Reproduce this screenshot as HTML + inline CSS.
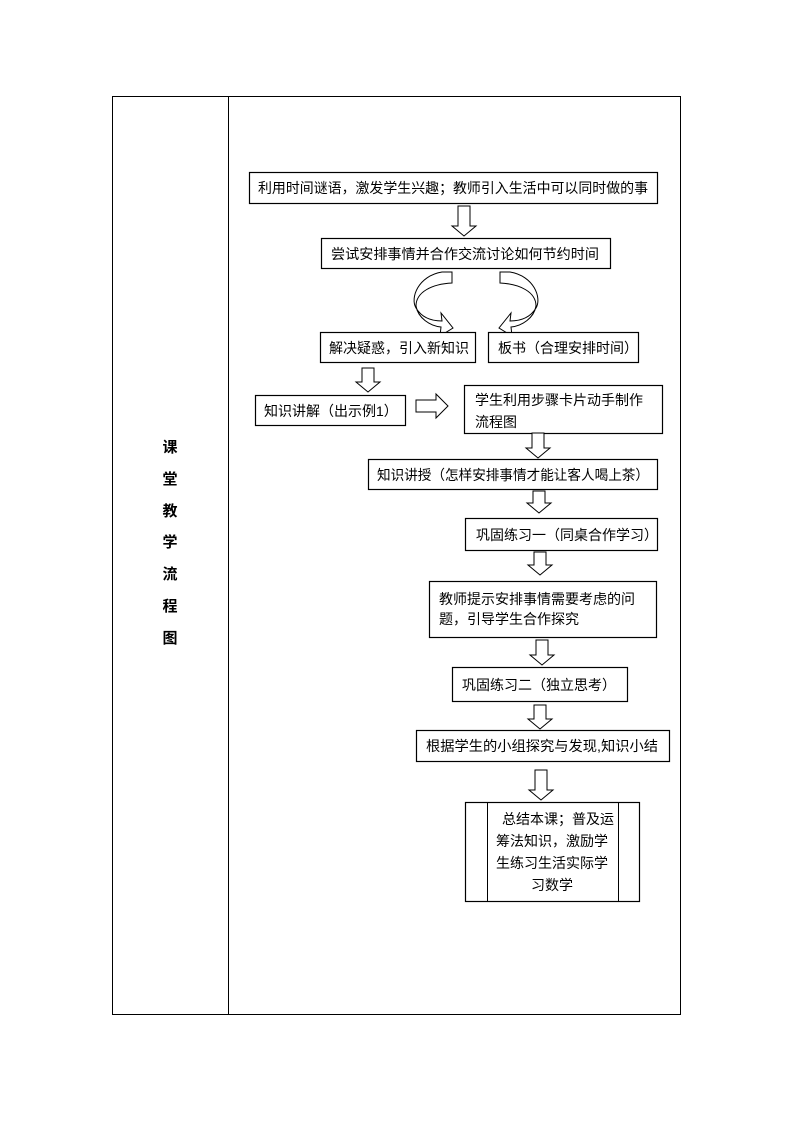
<!DOCTYPE html>
<html><head><meta charset="utf-8"><style>
html,body{margin:0;padding:0;background:#fff;}
svg{display:block;}
text{font-family:"Liberation Sans","Noto Sans CJK SC","WenQuanYi Zen Hei",sans-serif;font-size:14px;fill:#000;}
.b{fill:#fff;stroke:#000;stroke-width:1.2;}
.a{fill:#fff;stroke:#000;stroke-width:1;}
.v{font-size:15px;font-weight:bold;}
</style></head><body>
<svg width="794" height="1123" viewBox="0 0 794 1123" xmlns="http://www.w3.org/2000/svg">
<rect x="112.5" y="96.5" width="568" height="918" fill="none" stroke="#000" stroke-width="1"/>
<line x1="228.5" y1="96" x2="228.5" y2="1014" stroke="#000" stroke-width="1"/>
<g text-anchor="middle" class="v">
<text class="v" x="170" y="452">课</text>
<text class="v" x="170" y="484">堂</text>
<text class="v" x="170" y="516">教</text>
<text class="v" x="170" y="547">学</text>
<text class="v" x="170" y="579">流</text>
<text class="v" x="170" y="611">程</text>
<text class="v" x="170" y="643">图</text>
</g>

<rect class="b" x="249.5" y="172.5" width="408" height="31"/>
<text x="258" y="193" textLength="390" lengthAdjust="spacingAndGlyphs">利用时间谜语，激发学生兴趣；教师引入生活中可以同时做的事</text>

<rect class="b" x="321.5" y="238.5" width="289" height="30"/>
<text x="331" y="259" textLength="268" lengthAdjust="spacingAndGlyphs">尝试安排事情并合作交流讨论如何节约时间</text>

<path class="a" d="M452,272 L442,272 C418,276 410,298 416,308 C422,318 432,321 442,321 L441,313 L453,328 L440,336 L441,327 C430,326 418,318 416,306 C416,292 432,284 452,283 Z"/>
<g transform="translate(952,0) scale(-1,1)">
<path class="a" d="M452,272 L442,272 C418,276 410,298 416,308 C422,318 432,321 442,321 L441,313 L453,328 L440,336 L441,327 C430,326 418,318 416,306 C416,292 432,284 452,283 Z"/>
</g>

<rect class="b" x="320.5" y="332.5" width="155" height="30"/>
<text x="329" y="353">解决疑惑，引入新知识</text>
<rect class="b" x="488.5" y="332.5" width="150" height="30"/>
<text x="498" y="353">板书（合理安排时间）</text>

<rect class="b" x="255.5" y="395.5" width="150" height="30"/>
<text x="264" y="416">知识讲解（出示例1）</text>
<polygon class="a" points="416,400 436,400 436,394 448,406 436,418 436,412 416,412"/>

<rect class="b" x="464.5" y="385.5" width="198" height="48"/>
<text x="475" y="405">学生利用步骤卡片动手制作</text>
<text x="475" y="427">流程图</text>

<rect class="b" x="368.5" y="459.5" width="289" height="30"/>
<text x="377" y="480" textLength="272" lengthAdjust="spacingAndGlyphs">知识讲授（怎样安排事情才能让客人喝上茶）</text>

<rect class="b" x="465.5" y="518.5" width="192" height="32"/>
<text x="476" y="540">巩固练习一（同桌合作学习）</text>

<rect class="b" x="429.5" y="581.5" width="227" height="56"/>
<text x="439" y="604">教师提示安排事情需要考虑的问</text>
<text x="439" y="624">题，引导学生合作探究</text>

<rect class="b" x="452.5" y="667.5" width="175" height="34"/>
<text x="462" y="690">巩固练习二（独立思考）</text>

<rect class="b" x="416.5" y="730.5" width="253" height="31"/>
<text x="426" y="751" textLength="232" lengthAdjust="spacingAndGlyphs">根据学生的小组探究与发现,知识小结</text>

<rect class="b" x="465.5" y="802.5" width="174" height="99"/>
<line x1="487.5" y1="802" x2="487.5" y2="901" stroke="#000"/>
<line x1="618.5" y1="802" x2="618.5" y2="901" stroke="#000"/>
<text x="502" y="824">总结本课；普及运</text>
<text x="496" y="846">筹法知识，激励学</text>
<text x="496" y="868">生练习生活实际学</text>
<text x="531" y="890">习数学</text>

<polygon class="a" points="458,206 470,206 470,226 476,226 464,236 452,226 458,226"/>
<polygon class="a" points="362,368 374,368 374,382 380,382 368,392 356,382 362,382"/>
<polygon class="a" points="532,433 544,433 544,448 550,448 538,458 526,448 532,448"/>
<polygon class="a" points="533,491 545,491 545,503 551,503 539,513 527,503 533,503"/>
<polygon class="a" points="534,552 546,552 546,565 552,565 540,575 528,565 534,565"/>
<polygon class="a" points="536,640 548,640 548,655 554,655 542,665 530,655 536,655"/>
<polygon class="a" points="534,705 546,705 546,719 552,719 540,729 528,719 534,719"/>
<polygon class="a" points="535,770 547,770 547,790 553,790 541,800 529,790 535,790"/>
</svg>
</body></html>
